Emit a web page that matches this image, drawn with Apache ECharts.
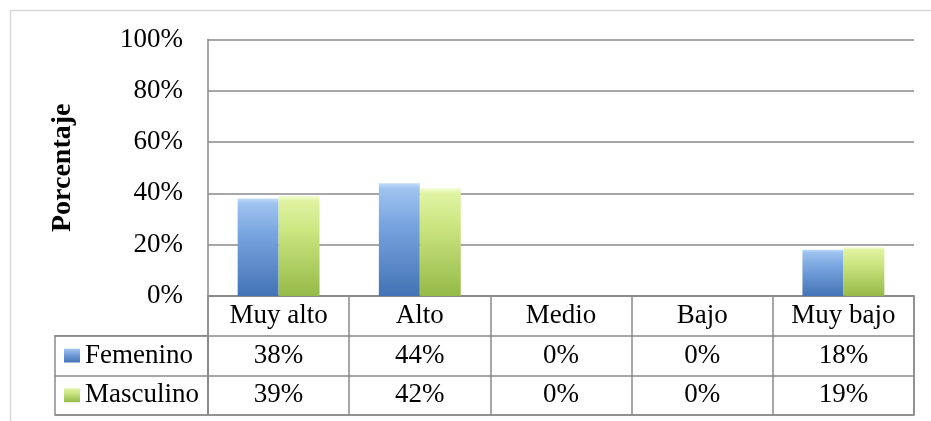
<!DOCTYPE html>
<html>
<head>
<meta charset="utf-8">
<script src="https://cdn.jsdelivr.net/npm/echarts@6/dist/echarts.min.js"></script>
<style>
  html, body { margin: 0; padding: 0; background: #ffffff; }
  #chart { width: 931px; height: 421px; }
</style>
</head>
<body>
<div id="chart"></div>
<script>
// Nivel por sexo (porcentaje)
const categories = ['Muy alto', 'Alto', 'Medio', 'Bajo', 'Muy bajo'];
const seriesNames = ['Femenino', 'Masculino'];
const femenino = [38, 44, 0, 0, 18];
const masculino = [39, 42, 0, 0, 19];
const yTicks = [0, 20, 40, 60, 80, 100];

const FONT = '"Liberation Serif", "DejaVu Serif", serif';
const LINE = '#8a8a8a';
const values = [femenino, masculino];

const blueFill = new echarts.graphic.LinearGradient(0, 0, 0, 1, [
  { offset: 0, color: '#c2dcf8' },
  { offset: 0.05, color: '#9fc3ef' },
  { offset: 0.35, color: '#7aa6e0' },
  { offset: 1, color: '#4373b6' }
]);
const greenFill = new echarts.graphic.LinearGradient(0, 0, 0, 1, [
  { offset: 0, color: '#f4fcd4' },
  { offset: 0.05, color: '#e0f3a2' },
  { offset: 0.35, color: '#cbe580' },
  { offset: 1, color: '#95ba48' }
]);

// value cells of the data table: [category, row, value]
const tableCells = [];
values.forEach((arr, r) => {
  arr.forEach((v, c) => tableCells.push([c, seriesNames[r], v]));
});

const chart = echarts.init(document.getElementById('chart'), null, { renderer: 'canvas' });

const option = {
  backgroundColor: '#ffffff',
  animation: false,
  textStyle: { fontFamily: FONT },
  graphic: [{
    type: 'rect',
    shape: { x: 10.5, y: 10.5, width: 1000, height: 1000 },
    style: { fill: 'none', stroke: '#d9d9d9', lineWidth: 1.5 },
    silent: true
  }],
  legend: {
    orient: 'vertical',
    left: 64,
    top: 342,
    padding: 0,
    itemWidth: 16,
    itemHeight: 14,
    itemGap: 12.7,
    icon: 'rect',
    data: seriesNames,
    textStyle: { fontFamily: FONT, fontSize: 27, lineHeight: 27, color: '#000' }
  },
  grid: [
    // plot area
    { left: 208, top: 39.5, width: 706, height: 256.5, show: false },
    // data table (header row + two value rows)
    { left: 208, top: 296, width: 706, height: 119, show: true, borderColor: LINE, borderWidth: 1.5, backgroundColor: 'transparent' },
    // legend column of the table
    { left: 55, top: 335.67, width: 153, height: 79.33, show: true, borderColor: LINE, borderWidth: 1.5, backgroundColor: 'transparent' }
  ],
  xAxis: [
    {
      gridIndex: 0, type: 'category', data: categories,
      axisLine: { show: true, lineStyle: { color: LINE, width: 1.5 } },
      axisTick: { show: false },
      axisLabel: { color: '#000', fontFamily: FONT, fontSize: 27, lineHeight: 27, margin: 6, interval: 0 }
    },
    {
      gridIndex: 1, type: 'category', data: categories,
      axisLine: { show: false }, axisTick: { show: false }, axisLabel: { show: false },
      splitLine: { show: true, interval: 0, lineStyle: { color: LINE, width: 1.5 } }
    },
    { gridIndex: 2, type: 'value', show: false }
  ],
  yAxis: [
    {
      gridIndex: 0, type: 'value', min: yTicks[0], max: yTicks[yTicks.length - 1], interval: 20,
      name: 'Porcentaje', nameLocation: 'middle', nameRotate: 90, nameGap: 131,
      nameTextStyle: { fontFamily: FONT, fontSize: 28, fontWeight: 'bold', color: '#000' },
      axisLine: { show: true, lineStyle: { color: LINE, width: 1.5 } },
      axisTick: { show: false },
      axisLabel: { color: '#000', fontFamily: FONT, fontSize: 27, margin: 25, formatter: '{value}%' },
      splitLine: { show: true, lineStyle: { color: LINE, width: 1.5 } }
    },
    {
      gridIndex: 1, type: 'category', inverse: true, data: [''].concat(seriesNames),
      axisLine: { show: false }, axisTick: { show: false }, axisLabel: { show: false },
      splitLine: { show: true, interval: 0, lineStyle: { color: LINE, width: 1.5 } }
    },
    {
      gridIndex: 2, type: 'category', inverse: true, data: seriesNames,
      axisLine: { show: false }, axisTick: { show: false }, axisLabel: { show: false },
      splitLine: { show: true, interval: 0, lineStyle: { color: LINE, width: 1.5 } }
    }
  ],
  series: [
    {
      name: seriesNames[0], type: 'bar', xAxisIndex: 0, yAxisIndex: 0,
      data: femenino, barGap: '0%', barCategoryGap: '42%',
      itemStyle: { color: blueFill, borderWidth: 0 }
    },
    {
      name: seriesNames[1], type: 'bar', xAxisIndex: 0, yAxisIndex: 0,
      data: masculino, barGap: '0%', barCategoryGap: '42%',
      itemStyle: { color: greenFill, borderWidth: 0 }
    },
    {
      name: 'tabla', type: 'scatter', xAxisIndex: 1, yAxisIndex: 1,
      data: tableCells, symbolSize: 0, silent: true,
      itemStyle: { opacity: 1 },
      label: {
        show: true, position: 'inside', color: '#000',
        fontFamily: FONT, fontSize: 27,
        formatter: p => p.value[2] + '%'
      }
    }
  ]
};

chart.setOption(option);
</script>
</body>
</html>
